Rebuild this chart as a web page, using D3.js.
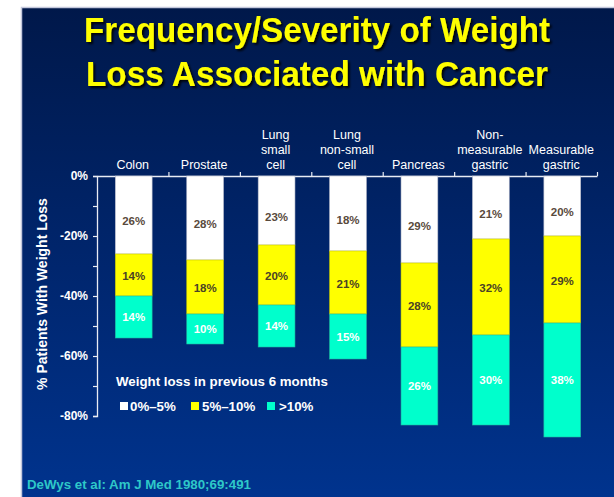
<!DOCTYPE html>
<html>
<head>
<meta charset="utf-8">
<script src="https://cdn.jsdelivr.net/npm/d3@7"></script>
<style>
    html, body { margin: 0; padding: 0; background: #ffffff; }
    svg { display: block; font-family: "Liberation Sans", Arial, sans-serif; }
</style>
</head>
<body>
<div id="chart"></div>
<script>
// categories (line breaks = label lines)
const categories = [
    "Colon",
    "Prostate",
    "Lung\nsmall\ncell",
    "Lung\nnon-small\ncell",
    "Pancreas",
    "Non-\nmeasurable\ngastric",
    "Measurable\ngastric"
];

const seriesNames = ["0%\u20135%", "5%\u201310%", ">10%"];

// segment heights as drawn (% of patients)
const lossUnder5 = [26, 28, 23, 25, 29, 21, 20];
const loss5to10 = [14, 18, 20, 21, 28, 32, 29];
const lossOver10 = [14, 10, 14, 15, 26, 30, 38];

// printed labels (lung non-small cell white segment reads 18% on the slide)
const labelsUnder5 = ["26%", "28%", "23%", "18%", "29%", "21%", "20%"];
const labels5to10 = ["14%", "18%", "20%", "21%", "28%", "32%", "29%"];
const labelsOver10 = ["14%", "10%", "14%", "15%", "26%", "30%", "38%"];

const yTicks = [0, -20, -40, -60, -80];
const yMinorTicks = [-10, -30, -50, -70];

class StackedLossChart
{
    constructor(parentElement) {
        this.parentElement = parentElement;

        this.colors = {
            "white": "#ffffff",
            "yellow": "#ffff00",
            "teal": "#00ffcc",
            "title": "#ffff00",
            "source": "#2ec8c8",
        };

        this.initVis();
    }

    initVis() {
        let vis = this;

        vis.width = 614;
        vis.height = 497;
        vis.plot = {left: 97, right: 597, top: 176, bottom: 416};

        vis.svg = d3.select("#" + vis.parentElement).append("svg")
            .attr("width", vis.width)
            .attr("height", vis.height);

        let defs = vis.svg.append("defs");
        let grad = defs.append("linearGradient")
            .attr("id", "slideBg")
            .attr("x1", 0).attr("y1", 0).attr("x2", 0).attr("y2", 1);
        grad.append("stop").attr("offset", "0%").attr("stop-color", "#00184a");
        grad.append("stop").attr("offset", "50%").attr("stop-color", "#00266e");
        grad.append("stop").attr("offset", "100%").attr("stop-color", "#003592");

        let shadow = defs.append("filter").attr("id", "titleShadow")
            .attr("x", "-10%").attr("y", "-20%").attr("width", "120%").attr("height", "150%");
        shadow.append("feDropShadow")
            .attr("dx", 2).attr("dy", 2).attr("stdDeviation", 0.8)
            .attr("flood-color", "#000000").attr("flood-opacity", 0.9);

        // slide background
        vis.svg.append("rect")
            .attr("x", 21.5).attr("y", 7.5)
            .attr("width", 620).attr("height", 520)
            .attr("fill", "url(#slideBg)")
            .attr("stroke", "#c4c8dc")
            .attr("stroke-width", 1.5);

        // title
        let titleLines = ["Frequency/Severity of Weight", "Loss Associated with Cancer"];
        vis.svg.append("g")
            .attr("filter", "url(#titleShadow)")
            .selectAll("text")
            .data(titleLines)
            .enter()
            .append("text")
            .attr("x", 317)
            .attr("y", (d, i) => 42 + i * 44)
            .attr("text-anchor", "middle")
            .attr("textLength", (d, i) => i === 0 ? 466 : 462)
            .attr("lengthAdjust", "spacingAndGlyphs")
            .style("font-size", "35px")
            .style("font-weight", "bold")
            .style("fill", vis.colors["title"])
            .text(d => d);

        vis.x = d3.scaleBand()
            .domain(categories)
            .range([vis.plot.left, vis.plot.right])
            .padding(0);

        vis.y = d3.scaleLinear()
            .domain([0, -80])
            .range([vis.plot.top, vis.plot.bottom]);

        vis.barWidth = vis.x.bandwidth() * 0.515;

        vis.drawAxes();
        vis.wrangleData();
    }

    drawAxes() {
        let vis = this;
        let axisColor = "#e8ecf4";

        // left axis
        let yAxis = d3.axisLeft(vis.y)
            .tickValues(yTicks.concat(yMinorTicks))
            .tickSize(4)
            .tickFormat(d => yTicks.includes(d) ? d + "%" : "");

        let gy = vis.svg.append("g")
            .attr("transform", `translate(${vis.plot.left}, 0)`)
            .call(yAxis);
        gy.select(".domain").attr("stroke", axisColor).attr("stroke-width", 1.3);
        gy.selectAll(".tick line").attr("stroke", axisColor).attr("stroke-width", 1.2);
        gy.selectAll(".tick text")
            .attr("x", -9)
            .style("font-family", "Liberation Sans, Arial, sans-serif")
            .style("font-size", "12px")
            .style("font-weight", "bold")
            .style("fill", "#ffffff");

        // top axis: ticks at the category boundaries
        let boundaries = categories.map(c => vis.x(c)).concat([vis.plot.right]);
        let topScale = d3.scaleLinear().domain([vis.plot.left, vis.plot.right]).range([vis.plot.left, vis.plot.right]);
        let xAxis = d3.axisTop(topScale)
            .tickValues(boundaries.slice(1))
            .tickSize(4)
            .tickSizeOuter(0)
            .tickFormat("");
        let gx = vis.svg.append("g")
            .attr("transform", `translate(0, ${vis.plot.top})`)
            .call(xAxis);
        gx.select(".domain").attr("stroke", axisColor).attr("stroke-width", 1.3);
        gx.selectAll(".tick line").attr("stroke", axisColor).attr("stroke-width", 1.2);

        // category labels above the axis
        let cat = vis.svg.append("g").selectAll("text")
            .data(categories)
            .enter()
            .append("text")
            .attr("text-anchor", "middle")
            .style("font-size", "12.5px")
            .style("fill", "#ffffff");

        cat.each(function(d) {
            let lines = d.split("\n");
            let cx = vis.x(d) + vis.x.bandwidth() / 2;
            d3.select(this).selectAll("tspan")
                .data(lines)
                .enter()
                .append("tspan")
                .attr("x", cx)
                .attr("y", (l, i) => 169 - (lines.length - 1 - i) * 15)
                .text(l => l);
        });

        // y axis title
        vis.svg.append("text")
            .attr("transform", "translate(47, 294) rotate(-90)")
            .attr("text-anchor", "middle")
            .style("font-size", "14px")
            .style("font-weight", "bold")
            .style("fill", "#ffffff")
            .text("% Patients With Weight Loss");
    }

    wrangleData() {
        let vis = this;

        vis.displayData = categories.map((c, i) => ({
            category: c,
            "0%\u20135%": lossUnder5[i],
            "5%\u201310%": loss5to10[i],
            ">10%": lossOver10[i],
            labels: [labelsUnder5[i], labels5to10[i], labelsOver10[i]]
        }));

        vis.stack = d3.stack().keys(seriesNames);
        vis.stackedData = vis.stack(vis.displayData);

        vis.updateVis();
    }

    updateVis() {
        let vis = this;

        const fills = [vis.colors["white"], vis.colors["yellow"], vis.colors["teal"]];
        const strokes = ["#b8bccc", "#c8c800", "#20b8a0"];
        const textColors = ["#594a3c", "#4a4226", "#ffffff"];
        const labelShift = [6, 1, 0];

        let layers = vis.svg.append("g").selectAll(".layer")
            .data(vis.stackedData)
            .enter()
            .append("g")
            .attr("class", "layer");

        layers.selectAll("rect")
            .data(d => d)
            .enter()
            .append("rect")
            .attr("x", d => vis.x(d.data.category) + (vis.x.bandwidth() - vis.barWidth) / 2 + 1)
            .attr("y", d => vis.y(-d[0]))
            .attr("width", vis.barWidth)
            .attr("height", d => vis.y(-d[1]) - vis.y(-d[0]))
            .attr("fill", function() { return fills[d3.select(this.parentNode).datum().index]; })
            .attr("stroke", function() { return strokes[d3.select(this.parentNode).datum().index]; })
            .attr("stroke-width", 0.6);

        layers.selectAll("text")
            .data(d => d.map(p => ({p: p, k: d.index})))
            .enter()
            .append("text")
            .attr("x", d => vis.x(d.p.data.category) + vis.x.bandwidth() / 2 + 1)
            .attr("y", d => (vis.y(-d.p[0]) + vis.y(-d.p[1])) / 2 + labelShift[d.k])
            .attr("dy", "0.36em")
            .attr("text-anchor", "middle")
            .style("font-size", "11.5px")
            .style("font-weight", "bold")
            .style("fill", d => textColors[d.k])
            .text(d => d.p.data.labels[d.k]);

        vis.addLegend(fills);

        // source
        vis.svg.append("text")
            .attr("x", 27)
            .attr("y", 489)
            .style("font-size", "13.3px")
            .style("font-weight", "bold")
            .style("fill", vis.colors["source"])
            .text("DeWys et al: Am J Med 1980;69:491");
    }

    addLegend(fills) {
        let vis = this;

        let legend = vis.svg.append("g");

        legend.append("text")
            .attr("x", 116)
            .attr("y", 386)
            .style("font-size", "13.3px")
            .style("font-weight", "bold")
            .style("fill", "#ffffff")
            .text("Weight loss in previous 6 months");

        let itemX = [120, 191, 267];

        let items = legend.selectAll(".legend-item")
            .data(seriesNames)
            .enter()
            .append("g")
            .attr("class", "legend-item")
            .attr("transform", (d, i) => `translate(${itemX[i]}, 402)`);

        items.append("rect")
            .attr("width", 8)
            .attr("height", 8)
            .attr("fill", (d, i) => fills[i]);

        items.append("text")
            .attr("x", (d, i) => [10, 11, 12][i])
            .attr("y", 8.5)
            .style("font-size", "13.3px")
            .style("font-weight", "bold")
            .style("fill", "#ffffff")
            .text(d => d);
    }
}

new StackedLossChart("chart");
</script>
</body>
</html>
